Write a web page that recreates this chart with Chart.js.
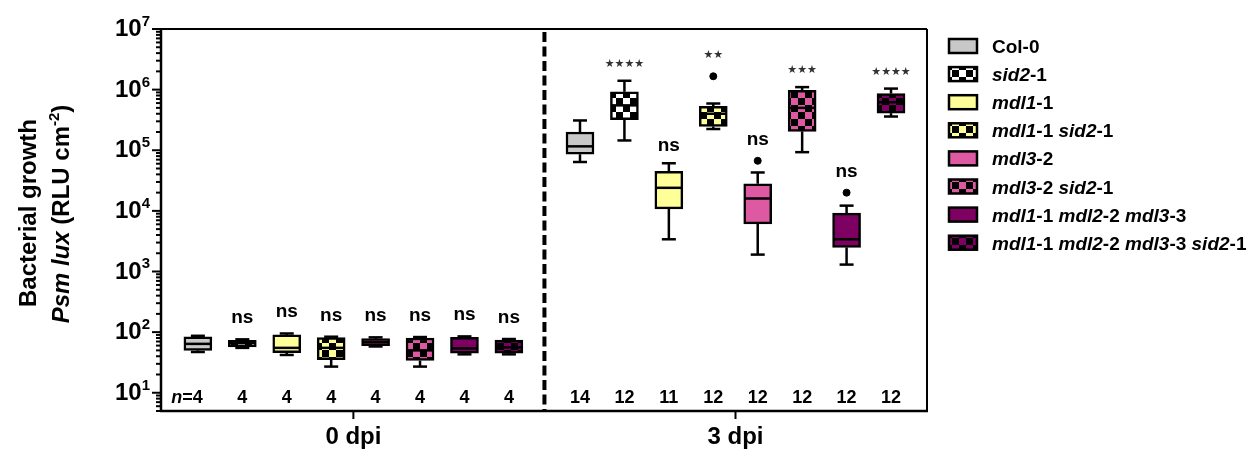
<!DOCTYPE html>
<html>
<head>
<meta charset="utf-8">
<script src="https://cdn.jsdelivr.net/npm/chart.js@4.4.1/dist/chart.umd.min.js"></script>
<style>
  html, body { margin: 0; padding: 0; background: #fff; }
  #wrap { width: 1251px; height: 452px; }
</style>
</head>
<body>
<div id="wrap"><canvas id="growthChart" width="1251" height="452"></canvas></div>
<script>
// Bacterial growth box plots, Psm lux, 0 and 3 dpi

const genotypes = ['Col-0', 'sid2-1', 'mdl1-1', 'mdl1-1 sid2-1', 'mdl3-2', 'mdl3-2 sid2-1',
                   'mdl1-1 mdl2-2 mdl3-3', 'mdl1-1 mdl2-2 mdl3-3 sid2-1'];
const days = ['0 dpi', '3 dpi'];

// 0 dpi (RLU cm-2)
const min0 = [47, 55, 42, 27, 58, 27, 43, 43];
const q1_0 = [50, 57, 46, 35, 60, 34, 45, 45];
const med0 = [64, 66, 55, 55, 68, 50, 54, 56];
const q3_0 = [84, 73, 90, 81, 78, 80, 82, 74];
const max0 = [87, 76, 95, 84, 82, 83, 85, 77];
const out0 = [null, null, null, null, null, null, null, null];
const n0 = [4, 4, 4, 4, 4, 4, 4, 4];
const sig0 = ['', 'ns', 'ns', 'ns', 'ns', 'ns', 'ns', 'ns'];

// 3 dpi (RLU cm-2)
const min3 = [6.4e4, 1.45e5, 3.4e3, 2.24e5, 1.9e3, 9.3e4, 1.3e3, 3.6e5];
const q1_3 = [8.6e4, 3.2e5, 1.08e4, 2.47e5, 6.1e3, 2.05e5, 2.5e3, 4.1e5];
const med3 = [1.16e5, 5.5e5, 2.4e4, 4.0e5, 1.6e4, 5.0e5, 3.4e3, 6.2e5];
const q3_3 = [2.0e5, 9.2e5, 4.5e4, 5.3e5, 2.8e4, 9.7e5, 9.2e3, 8.6e5];
const max3 = [3.1e5, 1.4e6, 6.1e4, 5.9e5, 4.3e4, 1.1e6, 1.22e4, 1.04e6];
const out3 = [null, null, null, 1.66e6, 6.7e4, null, 2.0e4, null];
const n3 = [14, 12, 11, 12, 12, 12, 12, 12];
const sig3 = ['', '****', 'ns', '**', 'ns', '***', 'ns', '****'];

const yExponents = [1, 2, 3, 4, 5, 6, 7];

// styles
const fillColors = ['#c8c8c8', '#ffffff', '#ffff99', '#ffff99', '#dd5aa3', '#dd5aa3', '#7d0062', '#7d0062'];
const checkered = [false, true, false, true, false, true, false, true];
const FONT = '"Liberation Sans", Arial, Helvetica, sans-serif';
const GROUP_STEP = 8.6;   // slot units between first boxes of the two days
const Y_MIN = 5, Y_MAX = 1e7;

const stats = [
  { min: min0, q1: q1_0, med: med0, q3: q3_0, max: max0, out: out0, n: n0, sig: sig0 },
  { min: min3, q1: q1_3, med: med3, q3: q3_3, max: max3, out: out3, n: n3, sig: sig3 }
];

function checker(color, cell) {
  const c = document.createElement('canvas');
  c.width = c.height = cell * 2;
  const p = c.getContext('2d');
  p.fillStyle = color;
  p.fillRect(0, 0, cell * 2, cell * 2);
  p.fillStyle = '#000';
  p.fillRect(0, 0, cell, cell);
  p.fillRect(cell, cell, cell, cell);
  return p.createPattern(c, 'repeat');
}

const fills = fillColors.map((c, i) => checkered[i] ? checker(c, 7) : c);

// split a genotype name into italic gene names and upright allele numbers
function richLabel(name) {
  return name.split(/([a-z]+\d)/)
    .map((t, k) => ({ text: t, italic: k % 2 === 1 }))
    .filter(s => s.text.length);
}

function segFont(s, size) {
  const sz = s.sup ? Math.round(size * 0.62) : size;
  return (s.italic ? 'italic ' : '') + 'bold ' + sz + 'px ' + FONT;
}

function drawRich(ctx, segs, x, y, size, align) {
  let total = 0;
  segs.forEach(s => { ctx.font = segFont(s, size); total += ctx.measureText(s.text).width; });
  let cx = align === 'center' ? x - total / 2 : (align === 'right' ? x - total : x);
  ctx.textAlign = 'left';
  segs.forEach(s => {
    ctx.font = segFont(s, size);
    ctx.fillText(s.text, cx, s.sup ? y - size * 0.42 : y);
    cx += ctx.measureText(s.text).width;
  });
}

function line(ctx, x1, y1, x2, y2) {
  ctx.beginPath();
  ctx.moveTo(x1, y1);
  ctx.lineTo(x2, y2);
  ctx.stroke();
}

const boxPlotExtras = {
  id: 'boxPlotExtras',
  beforeDatasetsDraw(chart) {
    const { ctx, chartArea: a, scales: { x } } = chart;
    const dx = x.getPixelForValue(GROUP_STEP - 0.8);
    ctx.save();
    ctx.strokeStyle = '#000';
    ctx.lineWidth = 4;
    ctx.setLineDash([10, 4.5]);
    line(ctx, dx, a.top + 3, dx, a.bottom - 1);
    ctx.restore();
  },
  afterDatasetsDraw(chart) {
    const { ctx, scales: { y } } = chart;
    ctx.save();
    ctx.strokeStyle = '#000';
    ctx.lineWidth = 2.5;
    genotypes.forEach((name, i) => {
      chart.getDatasetMeta(i).data.forEach((bar, g) => {
        const s = stats[g];
        const half = bar.width / 2;
        const pMin = y.getPixelForValue(s.min[i]);
        const pMax = y.getPixelForValue(s.max[i]);
        const pQ1 = y.getPixelForValue(s.q1[i]);
        const pQ3 = y.getPixelForValue(s.q3[i]);
        const pMed = y.getPixelForValue(s.med[i]);
        line(ctx, bar.x, pQ3, bar.x, pMax);
        line(ctx, bar.x - half / 2, pMax, bar.x + half / 2, pMax);
        line(ctx, bar.x, pQ1, bar.x, pMin);
        line(ctx, bar.x - half / 2, pMin, bar.x + half / 2, pMin);
        line(ctx, bar.x - half + 1, pMed, bar.x + half - 1, pMed);
      });
    });
    ctx.restore();
  },
  afterDraw(chart) {
    const { ctx, chartArea: a, scales: { x, y } } = chart;
    ctx.save();
    ctx.strokeStyle = '#000';
    ctx.fillStyle = '#000';

    // frame
    ctx.lineWidth = 2;
    line(ctx, a.left, a.top, a.right, a.top);
    line(ctx, a.right, a.top, a.right, a.bottom);
    ctx.lineWidth = 2.5;
    line(ctx, a.left, a.top - 1, a.left, a.bottom + 1);
    line(ctx, a.left - 1, a.bottom, a.right + 1, a.bottom);

    // y ticks, major and minor
    ctx.lineWidth = 2;
    for (let e = 0; e <= 7; e++) {
      for (let m = 1; m <= 9; m++) {
        const v = m * Math.pow(10, e);
        if (v < Y_MIN || v > Y_MAX) continue;
        const py = y.getPixelForValue(v);
        line(ctx, a.left - (m === 1 ? 9 : 5), py, a.left, py);
      }
    }
    // y tick labels 10^n
    yExponents.forEach(e => {
      const py = y.getPixelForValue(Math.pow(10, e));
      drawRich(ctx, [{ text: '10' }, { text: String(e), sup: true }], a.left - 11, py + 7, 24, 'right');
    });

    // x ticks and day labels
    days.forEach((d, g) => {
      const px = x.getPixelForValue(g * GROUP_STEP + 3.5);
      line(ctx, px, a.bottom, px, a.bottom + 8);
      ctx.font = 'bold 24px ' + FONT;
      ctx.textAlign = 'center';
      ctx.fillText(d, px, 444);
    });

    // n, significance
    stats.forEach((s, g) => {
      genotypes.forEach((name, i) => {
        const px = x.getPixelForValue(g * GROUP_STEP + i);
        ctx.font = 'bold 18px ' + FONT;
        ctx.textAlign = 'center';
        ctx.fillText(String(s.n[i]), px, 403);
        if (g === 0 && i === 0) {
          const w = ctx.measureText(String(s.n[i])).width;
          drawRich(ctx, [{ text: 'n', italic: true }, { text: '=' }], px - w / 2, 403, 18, 'right');
        }
        const label = s.sig[i];
        if (!label) return;
        const top = Math.min(y.getPixelForValue(s.max[i]),
                             s.out[i] ? y.getPixelForValue(s.out[i]) - 4 : Infinity);
        ctx.textAlign = 'center';
        if (label === 'ns') {
          ctx.font = 'bold 19px ' + FONT;
          ctx.fillStyle = '#000';
          ctx.fillText(label, px, top - (g === 0 ? 16 : 12));
        } else {
          ctx.font = '11px "DejaVu Sans", sans-serif';
          ctx.fillStyle = '#333';
          ctx.fillText(label.replace(/\*/g, '\u2605'), px, top - 14);
          ctx.fillStyle = '#000';
        }
      });
    });

    // y axis title
    ctx.save();
    ctx.translate(28, 213);
    ctx.rotate(-Math.PI / 2);
    drawRich(ctx, [{ text: 'Bacterial growth' }], 0, 8, 24, 'center');
    ctx.restore();
    ctx.save();
    ctx.translate(61, 214);
    ctx.rotate(-Math.PI / 2);
    drawRich(ctx, [{ text: 'Psm lux', italic: true }, { text: ' (RLU cm' }, { text: '-2', sup: true }, { text: ')' }],
             0, 8, 24, 'center');
    ctx.restore();

    // legend
    genotypes.forEach((name, i) => {
      const cy = 46 + i * 28.1;
      ctx.fillStyle = fills[i];
      ctx.fillRect(949, cy - 7, 28, 14);
      ctx.lineWidth = 2.5;
      ctx.strokeRect(949, cy - 7, 28, 14);
      ctx.fillStyle = '#000';
      drawRich(ctx, richLabel(name), 992, cy + 7, 19, 'left');
    });
    ctx.restore();
  }
};

const boxData = genotypes.map((name, i) => ({
  label: name,
  data: stats.map((s, g) => ({ x: g * GROUP_STEP + i, y: [s.q1[i], s.q3[i]] })),
  backgroundColor: fills[i],
  borderColor: '#000',
  borderWidth: 2.5,
  borderSkipped: false,
  barThickness: 28,
  grouped: false
}));

const outlierData = [];
stats.forEach((s, g) => s.out.forEach((v, i) => {
  if (v) outlierData.push({ x: g * GROUP_STEP + i, y: v });
}));

new Chart(document.getElementById('growthChart'), {
  type: 'bar',
  data: {
    datasets: boxData.concat([{
      type: 'scatter',
      label: 'outliers',
      data: outlierData,
      pointRadius: 3.5,
      pointBackgroundColor: '#000',
      pointBorderColor: '#000'
    }])
  },
  options: {
    responsive: false,
    animation: false,
    layout: { padding: { left: 161, right: 324, top: 29, bottom: 41 } },
    plugins: {
      legend: { display: false },
      tooltip: { enabled: false }
    },
    scales: {
      x: { type: 'linear', display: false, offset: false, min: -0.83, max: 16.41 },
      y: { type: 'logarithmic', display: false, min: Y_MIN, max: Y_MAX }
    }
  },
  plugins: [boxPlotExtras]
});
</script>
</body>
</html>
